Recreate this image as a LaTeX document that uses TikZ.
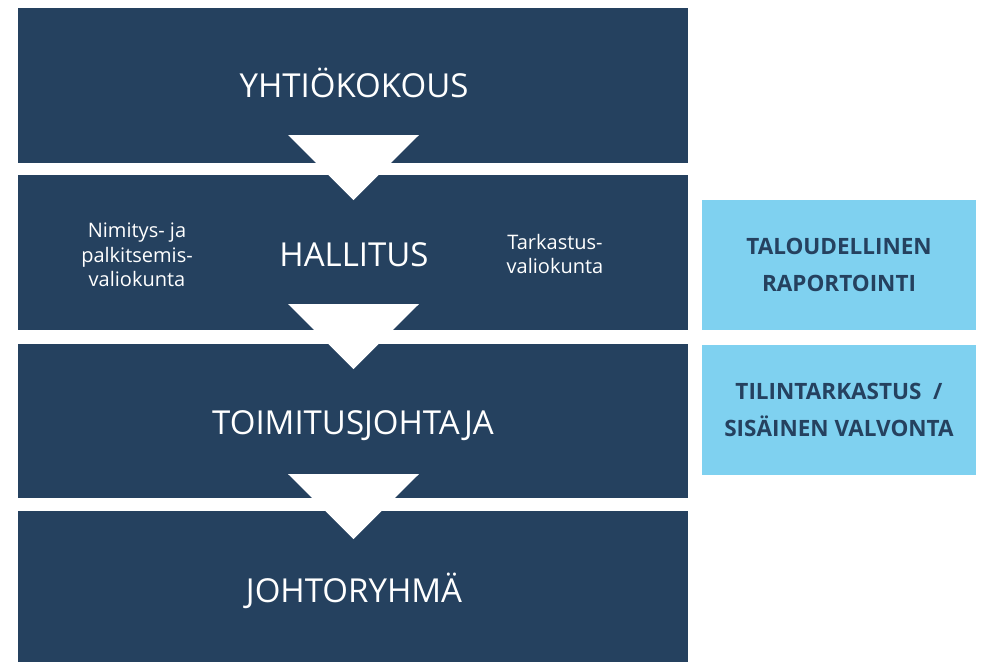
\documentclass[tikz,border=0pt]{standalone}
\usepackage{fontspec}
\setmainfont{Open Sans}
\definecolor{navy}{HTML}{25415F}
\definecolor{sky}{HTML}{7FD1F0}
\begin{document}
\begin{tikzpicture}[x=1pt,y=-1pt,
  darkbox/.style={fill=navy,draw=none,inner sep=0pt,outer sep=0pt,minimum width=670pt},
  lightbox/.style={fill=sky,draw=none,inner sep=0pt,outer sep=0pt,minimum width=274pt,minimum height=130pt,
    text=navy,font=\bfseries\fontsize{22.5}{37.5}\selectfont,align=center},
  mainlabel/.style={text=white,font=\fontsize{33}{34}\selectfont,inner sep=0pt,anchor=base},
  sublabel/.style={text=white,font=\fontsize{20}{24.5}\selectfont,align=center,inner sep=0pt},
  tri/.style={fill=white,draw=none}]
\useasboundingbox (0,0) rectangle (984,662);
\node[darkbox,minimum height=154.5pt] (b1) at (353,85.25) {};
\node[darkbox,minimum height=155pt] (b2) at (353,252.5) {};
\node[darkbox,minimum height=154pt] (b3) at (353,421) {};
\node[darkbox,minimum height=151pt] (b4) at (353,586.5) {};
\node[lightbox] (la) at (839,265) {TALOUDELLINEN\\RAPORTOINTI};
\node[lightbox] (lb) at (839,410) {TILINTARKASTUS\ \ /\\SISÄINEN VALVONTA};
\fill[tri] (288,135) -- (419,135) -- (353.5,200) -- cycle;
\fill[tri] (288,304) -- (419,304) -- (353.5,369) -- cycle;
\fill[tri] (288,474) -- (419,474) -- (353.5,539) -- cycle;
\node[mainlabel] (t1) at (354,97.5) {YHTIÖKOKOUS};
\node[mainlabel] (t2) at (354,266) {HALLITUS};
\node[mainlabel] (t3) at (353,434) {TOIMITUSJOHTAJA};
\node[mainlabel] (t4) at (354,602) {JOHTORYHMÄ};
\node[sublabel] (s1) at (137,255) {Nimitys- ja\\palkitsemis-\\valiokunta};
\node[sublabel] (s2) at (555,254) {Tarkastus-\\valiokunta};
\end{tikzpicture}
\end{document}
